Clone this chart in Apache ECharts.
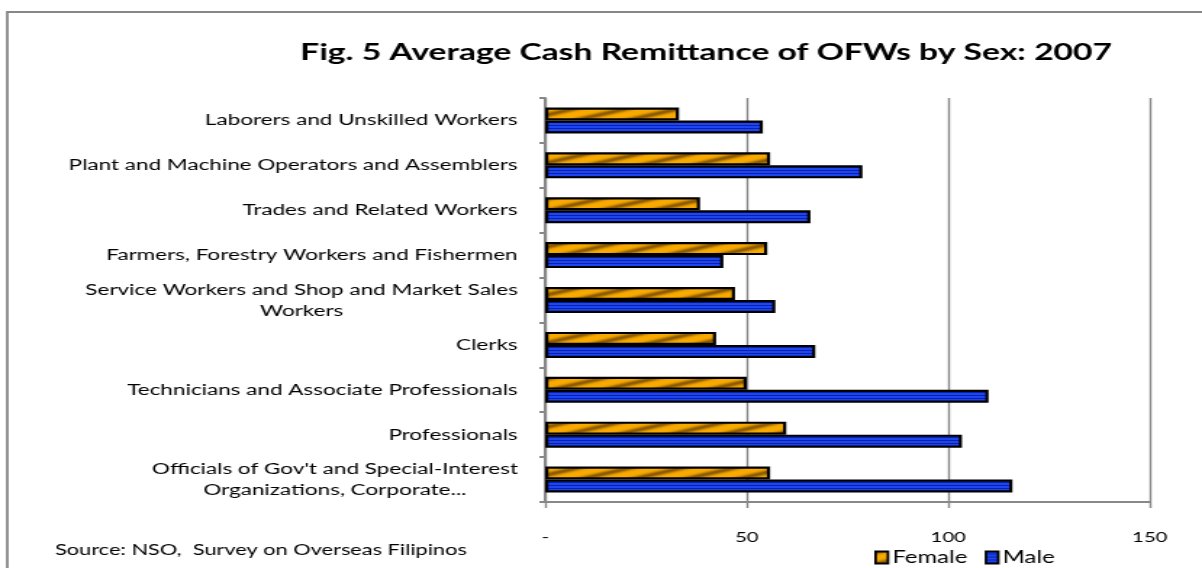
<!DOCTYPE html>
<html>
<head>
<meta charset="utf-8">
<script src="https://cdn.jsdelivr.net/npm/echarts@6/dist/echarts.min.js"></script>
<style>
html,body{margin:0;padding:0;background:#fff;overflow:hidden;}
#wrap{width:1202px;height:568px;overflow:hidden;position:relative;}
#c{width:829px;height:568px;transform:scaleX(1.44994);transform-origin:0 0;}
</style>
</head>
<body>
<div id="wrap"><div id="c"></div></div>
<script>
const categories = [
  "Laborers and Unskilled Workers",
  "Plant and Machine Operators and Assemblers",
  "Trades and Related Workers",
  "Farmers, Forestry Workers and Fishermen",
  "Service Workers and Shop and Market Sales\nWorkers",
  "Clerks",
  "Technicians and Associate Professionals",
  "Professionals",
  "Officials of Gov't and Special-Interest\nOrganizations, Corporate..."
];
const femaleValues = [33.2, 55.8, 38.4, 55.1, 47.1, 42.4, 50.0, 59.8, 55.8];
const maleValues = [54.0, 78.7, 65.8, 44.2, 57.1, 67.0, 110.0, 103.4, 115.9];
const xTicks = [0, 50, 100, 150];
const seriesNames = ["Female", "Male"];

function femalePattern() {
  const W = 36, H = 12;
  const cv = document.createElement('canvas');
  cv.width = W; cv.height = H;
  const g = cv.getContext('2d');
  const img = g.createImageData(W, H);
  const c1 = [248, 170, 0], c2 = [140, 90, 0];
  for (let y = 0; y < H; y++) {
    for (let x = 0; x < W; x++) {
      const ph = ((x / W + y / H) % 1 + 1) % 1;
      let t = 0.5 + 0.5 * Math.cos(2 * Math.PI * ph);
      t = Math.pow(t, 2.2);
      const i = (y * W + x) * 4;
      for (let k = 0; k < 3; k++) img.data[i + k] = Math.round(c1[k] + (c2[k] - c1[k]) * t);
      img.data[i + 3] = 255;
    }
  }
  g.putImageData(img, 0, 0);
  return cv;
}
function malePattern() {
  const cv = document.createElement('canvas');
  cv.width = 8; cv.height = 3;
  const g = cv.getContext('2d');
  g.fillStyle = '#1D45F2'; g.fillRect(0, 0, 8, 3);
  g.fillStyle = '#0B22A6'; g.fillRect(0, 2, 8, 1);
  return cv;
}
const fPat = { image: femalePattern(), repeat: 'repeat' };
const mPat = { image: malePattern(), repeat: 'repeat' };

const FONT = 'Lato';
const chart = echarts.init(document.getElementById('c'), null, { renderer: 'canvas', width: 829, height: 568 });
chart.setOption({
  animation: false,
  backgroundColor: '#fff',
  title: {
    text: 'Fig. 5 Average Cash Remittance of OFWs by Sex: 2007',
    left: 482, top: 36, textAlign: 'center',
    textStyle: { fontFamily: FONT, fontSize: 23.2, fontWeight: 'bold', color: '#000' }
  },
  graphic: [
    { type: 'rect', shape: { x: 5, y: 12, width: 1400, height: 700 }, style: { fill: 'none', stroke: '#888', lineWidth: 1.8 }, silent: true },
    { type: 'text', left: 38, top: 543, style: { text: 'Source: NSO,  Survey on Overseas Filipinos', font: '15px Lato', fill: '#000' } }
  ],
  legend: {
    data: seriesNames,
    left: 598, top: 544,
    itemWidth: 8.5, itemHeight: 12, itemGap: 12,
    icon: 'rect',
    textStyle: { fontFamily: FONT, fontSize: 16.5, color: '#000', padding: [0, 0, 0, -2] },
    itemStyle: { borderColor: '#000', borderWidth: 1.8 }
  },
  grid: { left: 376, right: 36, top: 98, bottom: 66, containLabel: false },
  xAxis: {
    type: 'value', min: 0, max: 150, interval: 50,
    axisLine: { show: true, lineStyle: { color: '#888', width: 2 } },
    axisTick: { show: true, length: 6, lineStyle: { color: '#888', width: 1.4 } },
    splitLine: { show: true, lineStyle: { color: '#888', width: 1.4 } },
    axisLabel: {
      margin: 28, color: '#000', fontFamily: FONT, fontSize: 14,
      formatter: v => (v === 0 ? '-' : String(v))
    }
  },
  yAxis: {
    type: 'category', data: categories, inverse: true,
    axisLine: { show: true, lineStyle: { color: '#888', width: 2 } },
    axisTick: { show: true, length: 4, lineStyle: { color: '#888', width: 2 } },
    splitLine: { show: false },
    axisLabel: {
      margin: 19, color: '#000', fontFamily: FONT, fontSize: 15.5, lineHeight: 21,
      formatter: function (v) {
        if (v.indexOf('\n') >= 0) {
          const parts = v.split('\n');
          const st = v.indexOf('Service') === 0 ? 'a' : 'b';
          return parts.map(p => '{' + st + '|' + p + '}').join('\n');
        }
        return v;
      },
      rich: {
        a: { width: 298, align: 'center', fontFamily: FONT, fontSize: 15.5, lineHeight: 21, color: '#000' },
        b: { width: 252, align: 'center', fontFamily: FONT, fontSize: 15.5, lineHeight: 21, color: '#000' }
      }
    }
  },
  series: [
    { name: 'Female', type: 'bar', data: femaleValues, barWidth: 13, barGap: '0%',
      itemStyle: { color: fPat, borderColor: '#000', borderWidth: 2.2 } },
    { name: 'Male', type: 'bar', data: maleValues, barWidth: 13, barGap: '0%',
      itemStyle: { color: mPat, borderColor: '#000', borderWidth: 2.2 } }
  ]
});
</script>
</body>
</html>
